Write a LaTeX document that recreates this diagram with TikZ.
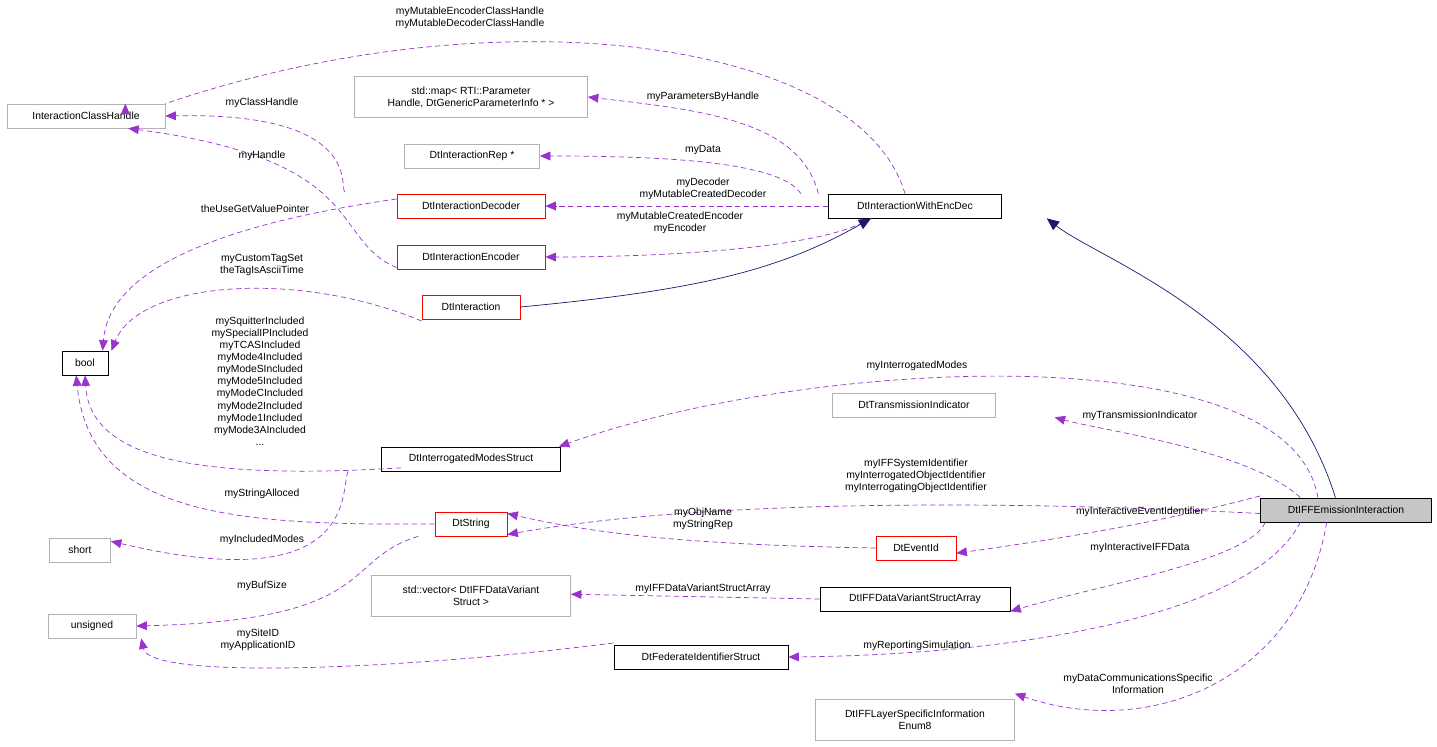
\documentclass[tikz,border=0pt]{standalone}
\usepackage{fontspec}
\setmainfont{Liberation Sans}
\usetikzlibrary{arrows.meta}
\definecolor{pur}{HTML}{9A32CD}
\definecolor{nav}{HTML}{191970}
\begin{document}
\begin{tikzpicture}[x=0.02cm,y=-0.02cm,
  every node/.style={font=\fontsize{5.9}{6.9}\selectfont,align=center,inner sep=1pt},
  box/.style={draw,minimum height=0.48cm,inner sep=2pt},
  gbox/.style={box,draw=gray!60},
  rbox/.style={box,draw=red},
  dep/.style={draw=pur,dashed,dash pattern=on 3pt off 2pt,-{Triangle[length=6pt,width=5pt]},fill=none},
  inh/.style={draw=nav,-{Triangle[length=7pt,width=6pt,fill=nav]}},
  lab/.style={}]
\useasboundingbox (0,0) rectangle (1437,747);
% nodes
\node[gbox,minimum width=3.16cm] (ich) at (86,116) {InteractionClassHandle};
\node[gbox,minimum width=4.66cm,minimum height=0.82cm] (map) at (471,97) {std::map< RTI::Parameter\\Handle, DtGenericParameterInfo * >};
\node[gbox,minimum width=2.7cm] (rep) at (472,156) {DtInteractionRep *};
\node[rbox,minimum width=2.96cm] (dec) at (471,206) {DtInteractionDecoder};
\node[rbox,minimum width=2.96cm] (enc) at (471,257) {DtInteractionEncoder};
\node[rbox,minimum width=1.96cm] (dti) at (471,307) {DtInteraction};
\node[box,minimum width=3.46cm] (wed) at (915,206) {DtInteractionWithEncDec};
\node[box,minimum width=0.92cm] (bool) at (85,363) {bool};
\node[gbox,minimum width=3.26cm] (tri) at (914,405) {DtTransmissionIndicator};
\node[box,minimum width=3.58cm] (ims) at (471,459) {DtInterrogatedModesStruct};
\node[rbox,minimum width=1.44cm] (str) at (471,524) {DtString};
\node[box,fill=gray!45,minimum width=3.42cm] (emi) at (1346,510) {DtIFFEmissionInteraction};
\node[rbox,minimum width=1.6cm] (eid) at (916,548) {DtEventId};
\node[gbox,minimum width=1.22cm] (short) at (80,550) {short};
\node[gbox,minimum width=3.98cm,minimum height=0.82cm] (vec) at (471,596) {std::vector< DtIFFDataVariant\\Struct >};
\node[box,minimum width=3.8cm] (dva) at (915,599) {DtIFFDataVariantStructArray};
\node[gbox,minimum width=1.76cm] (uns) at (92,626) {unsigned};
\node[box,minimum width=3.48cm] (fed) at (701,657) {DtFederateIdentifierStruct};
\node[gbox,minimum width=3.98cm,minimum height=0.82cm] (lay) at (915,720) {DtIFFLayerSpecificInformation\\Enum8};
% edges
\draw[dep] (wed.north) ++(-10,0) .. controls (860,40) and (500,-10) .. (ich.north east) ++(-40,0);
\draw[dep] ([xshift=-55]wed.north) .. controls (800,120) and (700,110) .. (map.east);
\draw[dep] ([xshift=-65]wed.north) .. controls (780,160) and (650,156) .. (rep.east);
\draw[dep] (wed.west) -- (dec.east);
\draw[dep] ([xshift=-25]wed.south) .. controls (820,250) and (650,257) .. (enc.east);
\draw[dep] ([xshift=-72,yshift=1]dec.north) .. controls (340,185) and (360,112) .. (ich.east);
\draw[dep] ([yshift=-6]enc.west) .. controls (330,240) and (370,160) .. ([xshift=24]ich.south);
\draw[dep] ([yshift=4]dec.west) .. controls (250,220) and (110,260) .. ([xshift=10]bool.north);
\draw[dep] ([yshift=-8]dti.west) .. controls (300,270) and (140,280) .. ([xshift=15]bool.north);
\draw[inh] (dti.east) .. controls (700,290) and (780,270) .. ([xshift=-25]wed.south);
\draw[inh] ([xshift=-6]emi.north) .. controls (1280,320) and (1100,260) .. ([xshift=75]wed.south);
\draw[dep] ([yshift=2]ims.south west) ++(20,0) .. controls (200,480) and (90,460) .. (bool.south);
\draw[dep] (str.west) .. controls (250,525) and (90,520) .. ([xshift=-5]bool.south);
\draw[dep] ([xshift=-70]ims.south) .. controls (340,490) and (360,600) .. ([yshift=5]short.east);
\draw[dep] ([xshift=-30]str.south) .. controls (340,560) and (380,620) .. (uns.east);
\draw[dep] ([yshift=8]fed.west) .. controls (400,670) and (150,680) .. ([xshift=28]uns.south);
\draw[dep] ([xshift=-16]emi.north) .. controls (1290,330) and (800,360) .. ([xshift=50]ims.north);
\draw[dep] ([xshift=-26]emi.north) .. controls (1250,450) and (1100,430) .. ([xshift=80]tri.south);
\draw[dep] ([yshift=-2]emi.west) .. controls (1000,500) and (700,500) .. ([yshift=-6]str.east);
\draw[dep] (eid.west) .. controls (700,545) and (600,535) .. ([yshift=6]str.east);
\draw[dep] ([yshift=8]emi.west) .. controls (1150,525) and (1050,540) .. ([yshift=-3]eid.east);
\draw[dep] ([xshift=-46]emi.south) .. controls (1250,560) and (1100,585) .. ([yshift=-7]dva.east);
\draw[dep] (dva.west) -- ([yshift=1]vec.east);
\draw[dep] ([xshift=-26]emi.south) .. controls (1250,620) and (1000,655) .. (fed.east);
\draw[dep] ([xshift=-11]emi.south) .. controls (1300,680) and (1150,740) .. ([yshift=15]lay.east);
% labels
\node[lab] (l1) at (470,18) {myMutableEncoderClassHandle\\myMutableDecoderClassHandle};
\node[lab] (l2) at (703,97) {myParametersByHandle};
\node[lab] (l3) at (703,150) {myData};
\node[lab] (l4) at (703,189) {myDecoder\\myMutableCreatedDecoder};
\node[lab] (l5) at (680,223) {myMutableCreatedEncoder\\myEncoder};
\node[lab] (l6) at (262,103) {myClassHandle};
\node[lab] (l7) at (262,156) {myHandle};
\node[lab] (l8) at (255,209) {theUseGetValuePointer};
\node[lab] (l9) at (262,265) {myCustomTagSet\\theTagIsAsciiTime};
\node[lab] (l10) at (260,381) {mySquitterIncluded\\mySpecialIPIncluded\\myTCASIncluded\\myMode4Included\\myModeSIncluded\\myMode5Included\\myModeCIncluded\\myMode2Included\\myMode1Included\\myMode3AIncluded\\...};
\node[lab] (l11) at (262,494) {myStringAlloced};
\node[lab] (l12) at (262,540) {myIncludedModes};
\node[lab] (l13) at (262,586) {myBufSize};
\node[lab] (l14) at (258,640) {mySiteID\\myApplicationID};
\node[lab] (l15) at (917,366) {myInterrogatedModes};
\node[lab] (l16) at (1140,416) {myTransmissionIndicator};
\node[lab] (l17) at (916,476) {myIFFSystemIdentifier\\myInterrogatedObjectIdentifier\\myInterrogatingObjectIdentifier};
\node[lab] (l18) at (703,519) {myObjName\\myStringRep};
\node[lab] (l19) at (1140,512) {myInteractiveEventIdentifier};
\node[lab] (l20) at (1140,548) {myInteractiveIFFData};
\node[lab] (l21) at (703,589) {myIFFDataVariantStructArray};
\node[lab] (l22) at (917,646) {myReportingSimulation};
\node[lab] (l23) at (1138,684) {myDataCommunicationsSpecific\\Information};
\end{tikzpicture}
\end{document}
